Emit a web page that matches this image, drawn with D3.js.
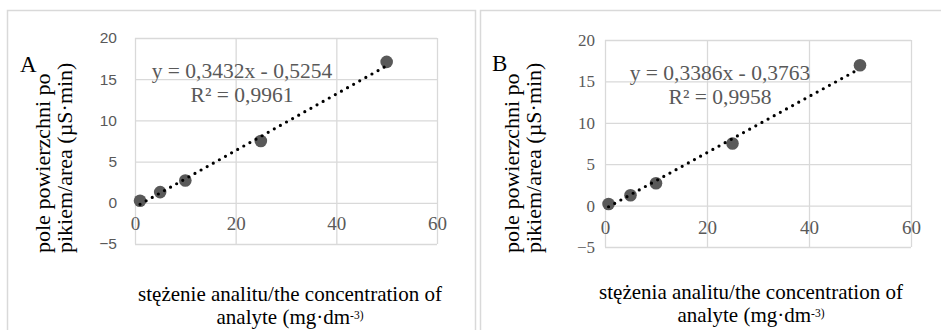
<!DOCTYPE html>
<html>
<head>
<meta charset="utf-8">
<script src="https://cdn.jsdelivr.net/npm/d3@7"></script>
<style>
  body { margin: 0; background: #fff; }
  svg { display: block; }
</style>
</head>
<body>
<svg id="chart" width="941" height="330"></svg>
<script>
// calibration points, panel A and B
var concA = [1, 5, 10, 25, 50];
var areaA = [0.25, 1.3, 2.7, 7.5, 17.1];
var concB = [0.7, 5, 10, 25, 50];
var areaB = [0.2, 1.25, 2.7, 7.5, 16.95];

// trendline coefficients as printed on the chart
var slopeA = 0.3432, interceptA = -0.5254, r2A = "0,9961";
var slopeB = 0.3386, interceptB = -0.3763, r2B = "0,9958";

var xTicks = [0, 20, 40, 60];
var yTicks = [-5, 0, 5, 10, 15, 20];

var svg = d3.select("#chart");
var grid = "#d9d9d9";
var gray = "#595959";
var serif = "'Liberation Serif', 'Times New Roman', serif";
var sans = "'Liberation Sans', Arial, sans-serif";

function fmt(v) {
  return v.toFixed(4).replace(".", ",");
}

function drawPanel(p) {
  // outer frame of the chart object
  svg.append("rect")
    .attr("x", p.frame[0]).attr("y", p.frame[1])
    .attr("width", p.frame[2]).attr("height", 400)
    .attr("fill", "none").attr("stroke", grid).attr("stroke-width", 1.5);

  var x = d3.scaleLinear().domain([0, 60]).range([p.left, p.right]);
  var y = d3.scaleLinear().domain([-5, 20]).range([p.bottom, p.top]);

  var g = svg.append("g");

  // horizontal gridlines
  g.append("g")
    .attr("transform", "translate(" + p.left + ",0)")
    .call(d3.axisLeft(y).tickValues(yTicks).tickSize(-(p.right - p.left)).tickFormat(""))
    .call(function(a) { a.select(".domain").remove(); a.selectAll("line").attr("stroke", grid).attr("stroke-width", 1.3); });

  // vertical gridlines
  g.append("g")
    .attr("transform", "translate(0," + p.bottom + ")")
    .call(d3.axisBottom(x).tickValues(xTicks).tickSize(-(p.bottom - p.top)).tickFormat(""))
    .call(function(a) { a.select(".domain").remove(); a.selectAll("line").attr("stroke", grid).attr("stroke-width", 1.3); });

  // y tick labels
  g.append("g")
    .attr("transform", "translate(" + p.left + ",0)")
    .call(d3.axisLeft(y).tickValues(yTicks).tickSize(0).tickPadding(p.yPad))
    .call(function(a) {
      a.select(".domain").remove();
      a.selectAll("text").attr("fill", gray)
        .style("font-family", p.yFont).style("font-size", p.yFontSize + "px");
    });

  // x tick labels sit under the zero line
  g.append("g")
    .attr("transform", "translate(0," + y(0) + ")")
    .call(d3.axisBottom(x).tickValues(xTicks).tickSize(0).tickPadding(p.xPad))
    .call(function(a) {
      a.select(".domain").remove();
      a.selectAll("text").attr("fill", gray)
        .style("font-family", serif).style("font-size", "19px");
    });

  // markers
  g.selectAll(".pt")
    .data(p.xs.map(function(v, i) { return {x: v, y: p.ys[i]}; }))
    .enter().append("circle")
    .attr("class", "pt")
    .attr("cx", function(d) { return x(d.x); })
    .attr("cy", function(d) { return y(d.y); })
    .attr("r", 6.3)
    .attr("fill", gray);

  // dotted linear trendline
  var x0 = d3.min(p.xs), x1 = d3.max(p.xs);
  g.append("line")
    .attr("x1", x(x0)).attr("y1", y(p.slope * x0 + p.intercept))
    .attr("x2", x(x1)).attr("y2", y(p.slope * x1 + p.intercept))
    .attr("stroke", "#000").attr("stroke-width", 3.2)
    .attr("stroke-linecap", "round").attr("stroke-dasharray", "0 7");

  // equation label
  var eq = g.append("text")
    .attr("text-anchor", "middle")
    .attr("fill", gray)
    .style("font-family", serif).style("font-size", "21.5px");
  eq.append("tspan").attr("x", p.eqX).attr("y", p.eqY)
    .text("y = " + fmt(p.slope) + "x - " + fmt(-p.intercept));
  eq.append("tspan").attr("x", p.eqX).attr("y", p.eqY + 24)
    .text("R² = " + p.r2);

  // panel letter
  g.append("text")
    .attr("x", p.letterX).attr("y", p.letterY)
    .style("font-family", serif).style("font-size", "23px")
    .text(p.letter);

  // y axis title (two lines, first one cut off)
  [p.yTitle1, p.yTitle2].forEach(function(t, i) {
    g.append("text")
      .attr("transform", "translate(" + (p.yTitleX + i * 22) + ",253) rotate(-90)")
      .style("font-family", serif).style("font-size", "22px")
      .text(t);
  });

  // x axis title, two separate lines
  g.append("text")
    .attr("x", p.xTitleX).attr("y", p.xTitleY)
    .attr("text-anchor", "middle")
    .style("font-family", serif).style("font-size", "21px")
    .text(p.xTitle1);
  var l2 = g.append("text")
    .attr("x", p.xTitleX).attr("y", p.xTitleY + 23)
    .attr("text-anchor", "middle")
    .style("font-family", serif).style("font-size", "21px");
  l2.append("tspan").text("analyte (mg·dm");
  l2.append("tspan").attr("dy", -5.5).style("font-size", "11.5px").text("-3)");
}

drawPanel({
  frame: [7.5, 10.5, 468],
  left: 135, right: 437, top: 38, bottom: 244,
  xs: concA, ys: areaA, slope: slopeA, intercept: interceptA, r2: r2A,
  yFont: sans, yFontSize: 15.5, yPad: 18, xPad: 14,
  eqX: 242, eqY: 78,
  letter: "A", letterX: 20, letterY: 72,
  yTitle1: "pole powierzchni po", yTitle2: "pikiem/area (µS·min)", yTitleX: 50,
  xTitle1: "stężenie analitu/the concentration of", xTitleX: 290, xTitleY: 301
});

drawPanel({
  frame: [480.5, 10.5, 470],
  left: 605, right: 911, top: 40, bottom: 247,
  xs: concB, ys: areaB, slope: slopeB, intercept: interceptB, r2: r2B,
  yFont: serif, yFontSize: 17, yPad: 10, xPad: 15,
  eqX: 720, eqY: 80,
  letter: "B", letterX: 492, letterY: 71,
  yTitle1: "pole powierzchni po", yTitle2: "pikiem/area (µS·min)", yTitleX: 519,
  xTitle1: "stężenia analitu/the concentration of", xTitleX: 751, xTitleY: 299
});
</script>
</body>
</html>
